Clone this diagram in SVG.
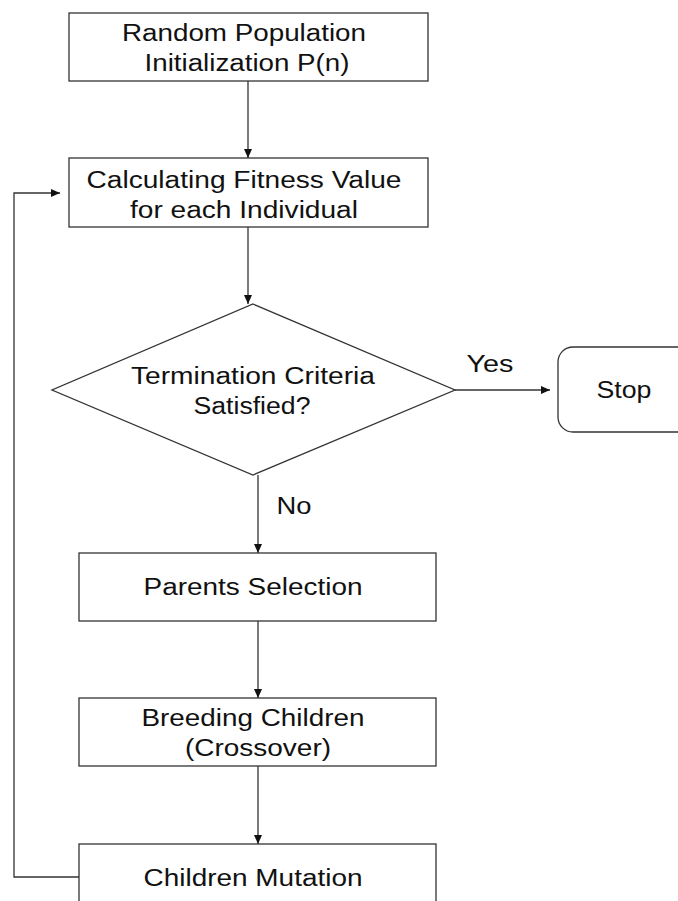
<svg xmlns="http://www.w3.org/2000/svg" width="678" height="901" viewBox="0 0 678 901">
<defs>
<marker id="ah" markerWidth="10" markerHeight="10" refX="9" refY="5" orient="auto" markerUnits="userSpaceOnUse">
<path d="M0,1 L9,5 L0,9 Z" fill="#111"/>
</marker>
<style>
.box{fill:#fff;stroke:#333;stroke-width:1.3}
.ln{fill:none;stroke:#333;stroke-width:1.3}
text{font-family:"Liberation Sans",Arial,sans-serif;font-size:23px;fill:#111;text-anchor:middle}
</style>
</defs>
<rect width="678" height="901" fill="#fff"/>
<g id="connectors">
<line class="ln" x1="248" y1="81" x2="248" y2="158" marker-end="url(#ah)"/>
<line class="ln" x1="248" y1="227" x2="248" y2="304" marker-end="url(#ah)"/>
<line class="ln" x1="455" y1="390" x2="550" y2="390" marker-end="url(#ah)"/>
<line class="ln" x1="258" y1="475" x2="258" y2="553" marker-end="url(#ah)"/>
<line class="ln" x1="258" y1="621" x2="258" y2="698" marker-end="url(#ah)"/>
<line class="ln" x1="258" y1="766" x2="258" y2="844" marker-end="url(#ah)"/>
<polyline class="ln" points="79,877 14,877 14,193 60,193" marker-end="url(#ah)"/>
<text x="490" y="372" textLength="47" lengthAdjust="spacingAndGlyphs">Yes</text>
<text x="294" y="514" textLength="35" lengthAdjust="spacingAndGlyphs">No</text>
</g>
<g id="init">
<rect class="box" x="69" y="13" width="359" height="68"/>
<text x="244" y="41" textLength="244" lengthAdjust="spacingAndGlyphs">Random Population</text>
<text x="247" y="71" textLength="205" lengthAdjust="spacingAndGlyphs">Initialization P(n)</text>
</g>
<g id="fitness">
<rect class="box" x="69" y="158" width="359" height="69"/>
<text x="244" y="188" textLength="315" lengthAdjust="spacingAndGlyphs">Calculating Fitness Value</text>
<text x="244" y="218" textLength="228" lengthAdjust="spacingAndGlyphs">for each Individual</text>
</g>
<g id="termination">
<polygon class="box" points="253,304 455,390 253,475 52,390"/>
<text x="253" y="384" textLength="244" lengthAdjust="spacingAndGlyphs">Termination Criteria</text>
<text x="252" y="414" textLength="117" lengthAdjust="spacingAndGlyphs">Satisfied?</text>
</g>
<g id="stop">
<rect class="box" x="558" y="347" width="140" height="85" rx="15" ry="15"/>
<text x="624" y="398" textLength="55" lengthAdjust="spacingAndGlyphs">Stop</text>
</g>
<g id="selection">
<rect class="box" x="79" y="553" width="357" height="68"/>
<text x="253" y="595" textLength="219" lengthAdjust="spacingAndGlyphs">Parents Selection</text>
</g>
<g id="crossover">
<rect class="box" x="79" y="698" width="357" height="68"/>
<text x="253" y="726" textLength="223" lengthAdjust="spacingAndGlyphs">Breeding Children</text>
<text x="258" y="756" textLength="146" lengthAdjust="spacingAndGlyphs">(Crossover)</text>
</g>
<g id="mutation">
<rect class="box" x="79" y="844" width="357" height="80"/>
<text x="253" y="886" textLength="219" lengthAdjust="spacingAndGlyphs">Children Mutation</text>
</g>
</svg>
